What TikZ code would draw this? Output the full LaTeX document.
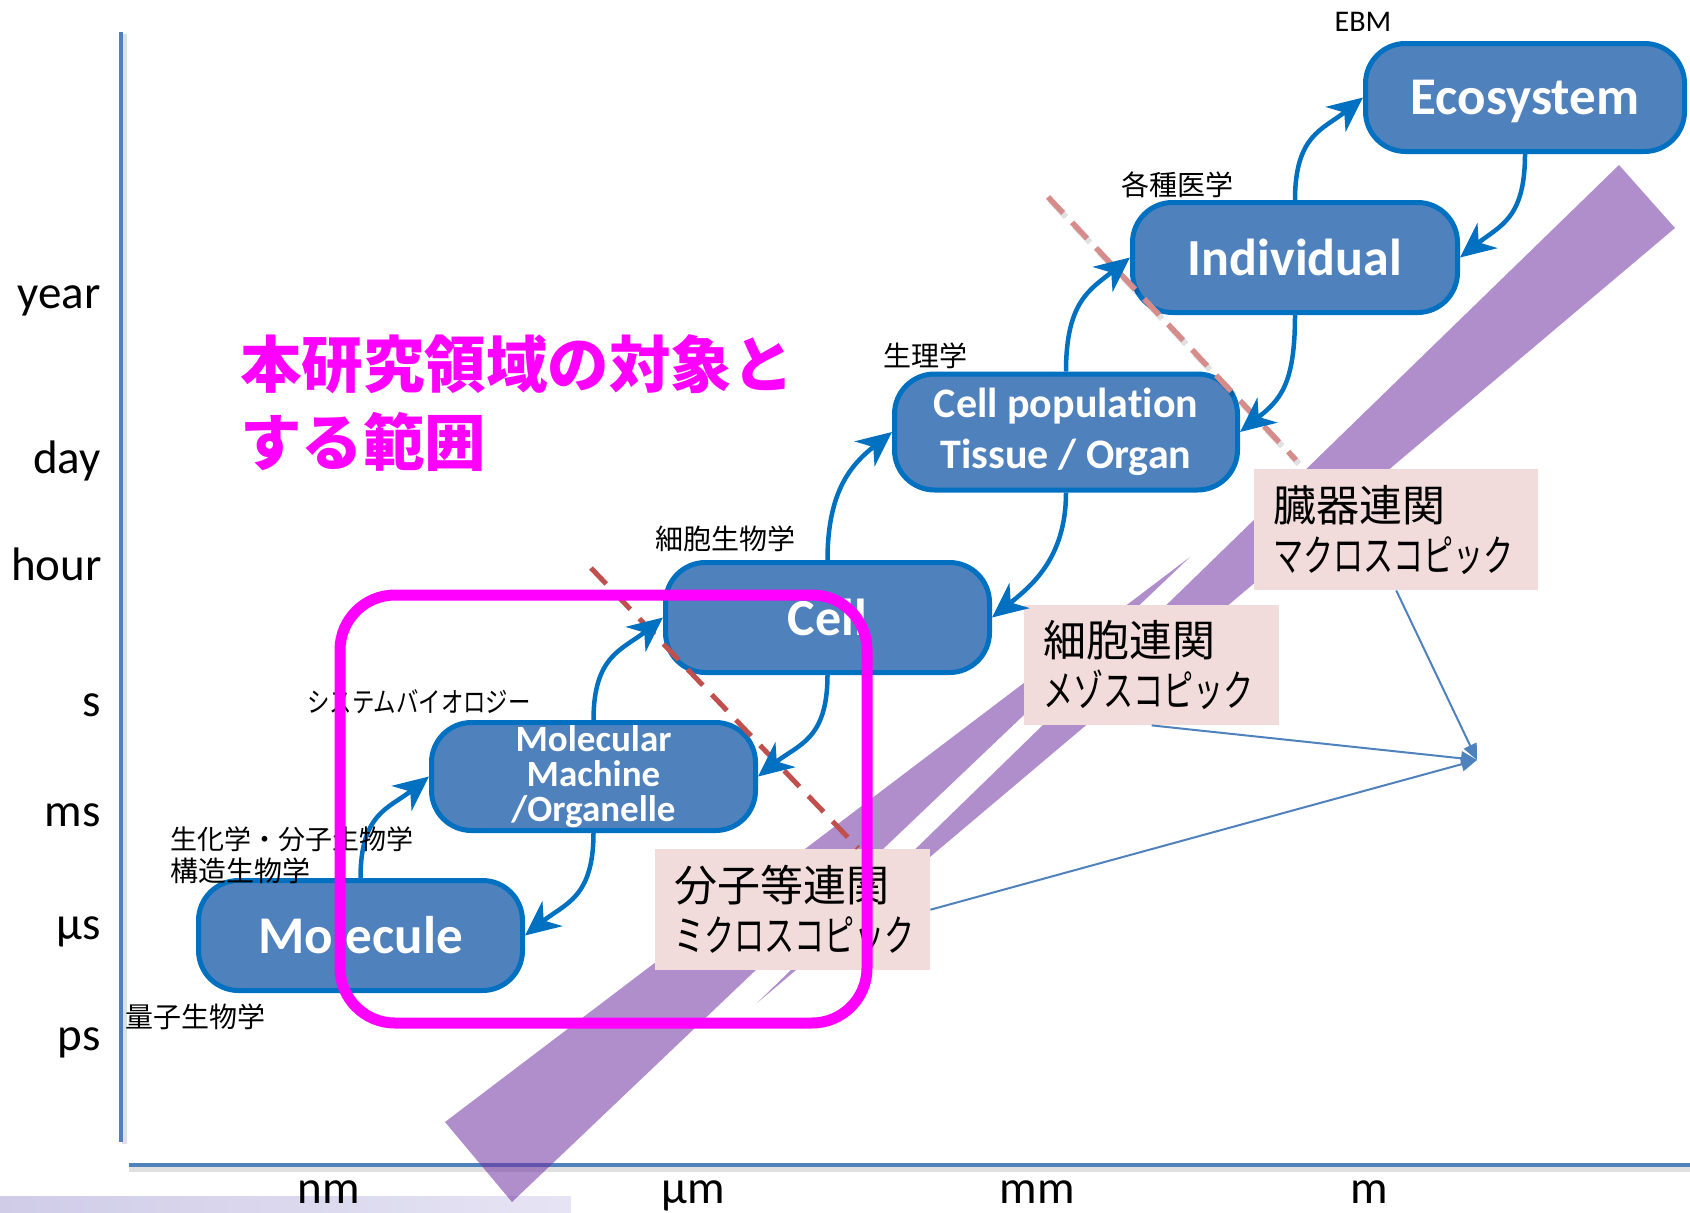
\documentclass[tikz,border=0pt]{standalone}
\usepackage{graphicx}
\usepackage{fontspec}
\setmainfont{Carlito}[Ligatures=NoCommon]
\newfontfamily\cjk{Noto Sans CJK JP}
\usetikzlibrary{arrows.meta}
\newcommand\fsz[2]{\fontsize{#1}{#2}\selectfont}
\newcommand\kana[1]{\scalebox{0.70}[1]{#1}}
\definecolor{boxfill}{RGB}{79,129,189}
\definecolor{boxline}{RGB}{0,112,192}
\definecolor{axisblue}{RGB}{79,129,189}
\definecolor{pinkbox}{RGB}{242,220,219}
\definecolor{bandpurple}{RGB}{112,48,160}
\definecolor{dashred}{RGB}{192,80,77}
\definecolor{dashpink}{RGB}{214,140,138}
\definecolor{framemag}{RGB}{255,0,255}
\definecolor{lavA}{RGB}{208,204,232}
\definecolor{lavB}{RGB}{230,228,244}
\begin{document}
\begin{tikzpicture}[x=1pt,y=-1pt,
  bluebox/.style={draw=boxline, line width=5pt, fill=boxfill, rounded corners=40pt,
    text=white, align=center, inner sep=0pt},
  flow/.style={draw=boxline, line width=4.5pt, -{Stealth[length=35pt,width=32pt,inset=11pt]}},
  pinknote/.style={fill=pinkbox, inner xsep=19pt, inner ysep=0pt, align=left,
    anchor=north west, font=\cjk\fsz{43}{50}},
  field/.style={font=\cjk\fsz{28}{28}, inner sep=0pt, text=black},
  axislbl/.style={font=\fsz{47}{47}, inner sep=0pt, text=black},
  axisline/.style={draw=axisblue, line width=4pt},
  axisshadow/.style={draw=black, opacity=0.12, line width=5pt},
  band/.style={fill=bandpurple, fill opacity=0.55},
  thinarrow/.style={draw=axisblue, line width=2pt, -{Triangle[length=16pt,width=14pt]}},
  dashlo/.style={draw=dashred, line width=5pt, dash pattern=on 22pt off 13pt},
  dashhi/.style={draw=dashpink, line width=5.5pt, dash pattern=on 22pt off 13pt},
  dashshadow/.style={draw=black, opacity=0.12, line width=6pt, dash pattern=on 22pt off 13pt}
]
\useasboundingbox (0,0) rectangle (1690,1213);

% decorative strip at bottom left
\shade[left color=lavA, right color=lavB] (0,1196) rectangle (571,1213);

% axes
\coordinate (yaxtop) at (121,32);
\coordinate (yaxbot) at (121,1142);
\coordinate (xaxl) at (129,1165);
\coordinate (xaxr) at (1690,1165);
\draw[axisshadow] ([shift={(3,2)}]yaxtop) -- ([shift={(3,2)}]yaxbot);
\draw[axisshadow] ([shift={(0,4)}]xaxl) -- ([shift={(0,4)}]xaxr);
\draw[axisline] (yaxtop) -- (yaxbot);
\draw[axisline] (xaxl) -- (xaxr);

% axis labels
\node[axislbl, anchor=east] (tyear) at (101,301) {year};
\node[axislbl, anchor=east] (tday) at (101,461) {day};
\node[axislbl, anchor=east] (thour) at (102,564) {hour};
\node[axislbl, anchor=east] (ts) at (101,705) {s};
\node[axislbl, anchor=east] (tms) at (101,815) {ms};
\node[axislbl, anchor=east] (tus) at (101,932) {µs};
\node[axislbl, anchor=east] (tps) at (101,1043) {ps};
\node[axislbl, anchor=base] (lnm) at (329,1203) {nm};
\node[axislbl, anchor=base] (lum) at (693,1203) {µm};
\node[axislbl, anchor=base] (lmm) at (1037,1203) {mm};
\node[axislbl, anchor=base] (lm) at (1369,1203) {m};

% purple bands
\fill[band] (1619,165) -- (1675,228) -- (757,1003) -- cycle;
\fill[band] (445,1122) -- (512,1202) -- (1190,557) -- cycle;

% pink notes
\node[pinknote, minimum width=284pt, minimum height=121pt, text width=246pt] (macro) at (1254,469)
  {臓器連関\\\kana{マクロスコピック}};
\node[pinknote, minimum width=255pt, minimum height=120pt, text width=217pt] (meso) at (1024,605)
  {細胞連関\\\kana{メゾスコピック}};
\node[pinknote, minimum width=275pt, minimum height=121pt, text width=237pt] (micro) at (655,849)
  {分子等連関\\\kana{ミクロスコピック}};

% thin converging arrows
\coordinate (conv) at (1477,760);
\draw[thinarrow] (macro.south) -- (conv);
\draw[thinarrow] (meso.south) -- (conv);
\draw[thinarrow] (micro.east) -- (conv);

% hierarchy boxes
\node[bluebox, minimum width=319pt, minimum height=108pt, font=\bfseries\fsz{53}{53}, text height=34pt, text depth=0pt] (eco) at (1525,97.5) {Ecosystem};
\node[bluebox, minimum width=325pt, minimum height=110pt, font=\bfseries\fsz{52}{52}] (ind) at (1295,257.5) {Individual};
\node[bluebox, minimum width=343pt, minimum height=116pt, font=\bfseries\fsz{42}{51}] (pop) at (1066,432) {Cell population\\Tissue / Organ};
\node[bluebox, minimum width=324pt, minimum height=110pt, font=\bfseries\fsz{52}{52}] (cell) at (827.5,617.5) {Cell};
\node[bluebox, minimum width=324pt, minimum height=108pt, font=\bfseries\fsz{37}{35}] (mach) at (593.5,776.5) {Molecular\\Machine\\/Organelle};
\node[bluebox, minimum width=324pt, minimum height=110pt, font=\bfseries\fsz{53}{53}] (mol) at (360.5,935.5) {Molecule};

% dashed boundaries
\coordinate (d1a) at (591,568);
\coordinate (d1b) at (858,848);
\coordinate (d2a) at (1048,197);
\coordinate (d2b) at (1296,460);
\draw[dashlo] (d1a) -- (d1b);
\draw[dashshadow] ([shift={(3,4)}]d2a) -- ([shift={(3,4)}]d2b);
\draw[dashhi] (d2a) -- (d2b);

% transitions between levels
\draw[flow] (mol.north) .. controls +(0,-65) and +(-40,32) .. (mach.west);
\draw[flow] (mach.south) .. controls +(0,65) and +(40,-32) .. (mol.east);
\draw[flow] (mach.north) .. controls +(0,-65) and +(-40,32) .. (cell.west);
\draw[flow] (cell.south) .. controls +(0,65) and +(40,-32) .. (mach.east);
\draw[flow] (cell.north) .. controls +(0,-70) and +(-40,32) .. (pop.west);
\draw[flow] (pop.south) .. controls +(0,65) and +(40,-32) .. (cell.east);
\draw[flow] (pop.north) .. controls +(0,-70) and +(-40,32) .. (ind.west);
\draw[flow] (ind.south) .. controls +(0,70) and +(40,-32) .. (pop.east);
\draw[flow] (ind.north) .. controls +(0,-65) and +(-40,32) .. (eco.west);
\draw[flow] (eco.south) .. controls +(0,65) and +(40,-32) .. (ind.east);

% field labels
\node[font=\fsz{30}{30}, inner sep=0pt] (lebm) at (1363,22) {EBM};
\node[field] (lmed) at (1177,185) {各種医学};
\node[field] (lphys) at (925,356) {生理学};
\node[field] (lcbio) at (725,539) {細胞生物学};
\node[field] (lsys) at (419,702) {\scalebox{0.8}[1]{システムバイオロジー}};
\node[field, anchor=west, font=\cjk\fsz{27}{27}] (lbio) at (170,839) {生化学・分子生物学};
\node[field, anchor=west] (lstr) at (170,871) {構造生物学};
\node[field, anchor=west] (lqua) at (125,1017) {量子生物学};

% title
\node[anchor=west, inner sep=0pt, align=left, text=framemag, font=\cjk\bfseries\fsz{61.5}{78}] (title) at (240,403)
  {本研究領域の対象と\\する範囲};

% scope frame
\draw[framemag, line width=11pt, rounded corners=55pt] (340,595) rectangle (867,1023);
\end{tikzpicture}
\end{document}
